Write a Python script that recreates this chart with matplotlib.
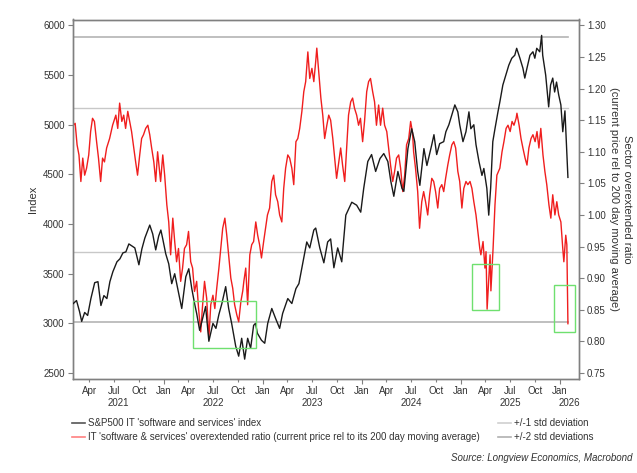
import pandas as pd
import matplotlib
matplotlib.use("Agg")
import matplotlib.pyplot as plt
import matplotlib.dates as mdates
import matplotlib.transforms as mtransforms
from matplotlib.patches import Rectangle
from matplotlib.lines import Line2D

plt.rcParams['font.family'] = ['Liberation Sans', 'DejaVu Sans']

# ─────────────────────────────────────────
# DATA
# ─────────────────────────────────────────
# S&P500 IT 'software and services' index (left axis)
index_dates = [
    "2021-02-01", "2021-02-13", "2021-02-24", "2021-03-04", "2021-03-15", "2021-03-26", "2021-04-07", "2021-04-21",
    "2021-05-03", "2021-05-14", "2021-05-25", "2021-06-05", "2021-06-16", "2021-06-27", "2021-07-12", "2021-07-23",
    "2021-08-03", "2021-08-14", "2021-08-25", "2021-09-05", "2021-09-16", "2021-10-01", "2021-10-12", "2021-10-23",
    "2021-11-03", "2021-11-10", "2021-11-21", "2021-12-02", "2021-12-13", "2021-12-21", "2021-12-28",
    "2022-01-08", "2022-01-19", "2022-01-30", "2022-02-10", "2022-02-21", "2022-03-08", "2022-03-23", "2022-04-03",
    "2022-04-14", "2022-04-25", "2022-05-02", "2022-05-13", "2022-05-24", "2022-06-04", "2022-06-16", "2022-07-01",
    "2022-07-12", "2022-07-23", "2022-08-03", "2022-08-17", "2022-08-28", "2022-09-08", "2022-09-23", "2022-10-04",
    "2022-10-15", "2022-10-26", "2022-11-06", "2022-11-17", "2022-11-28", "2022-12-05", "2022-12-12", "2022-12-27",
    "2023-01-08", "2023-01-19", "2023-02-03", "2023-02-17", "2023-03-04", "2023-03-15", "2023-04-03", "2023-04-18",
    "2023-05-03", "2023-05-14", "2023-05-28", "2023-06-12", "2023-06-23", "2023-07-08", "2023-07-15", "2023-07-30",
    "2023-08-14", "2023-08-28", "2023-09-08", "2023-09-20", "2023-10-04", "2023-10-19", "2023-11-03", "2023-11-25",
    "2023-12-13", "2023-12-28",
    "2024-01-08", "2024-01-23", "2024-02-06", "2024-02-21", "2024-03-08", "2024-03-22", "2024-04-06", "2024-04-17",
    "2024-04-28", "2024-05-13", "2024-05-28", "2024-06-04", "2024-06-19", "2024-07-03", "2024-07-14", "2024-07-25",
    "2024-08-02", "2024-08-17", "2024-08-28", "2024-09-15", "2024-09-23", "2024-10-03", "2024-10-14", "2024-10-29",
    "2024-11-06", "2024-11-17", "2024-11-28", "2024-12-09", "2024-12-20", "2024-12-27",
    "2025-01-08", "2025-01-19", "2025-01-30", "2025-02-06", "2025-02-17", "2025-02-25", "2025-03-08", "2025-03-19",
    "2025-03-26", "2025-04-06", "2025-04-13", "2025-04-20", "2025-04-28", "2025-05-06", "2025-05-17", "2025-05-24",
    "2025-06-04", "2025-06-15", "2025-06-26", "2025-07-07", "2025-07-18", "2025-07-25", "2025-08-06", "2025-08-17",
    "2025-08-24", "2025-09-01", "2025-09-12", "2025-09-23", "2025-09-30", "2025-10-07", "2025-10-18", "2025-10-25",
    "2025-10-29", "2025-11-09", "2025-11-20", "2025-11-27", "2025-12-05", "2025-12-12", "2025-12-19", "2025-12-27",
    "2026-01-04", "2026-01-11", "2026-01-19", "2026-01-30",
]
index_values = [
    3200, 3230, 3120, 3020, 3110, 3080, 3250, 3410,
    3420, 3180, 3280, 3250, 3420, 3520, 3620, 3650,
    3710, 3720, 3800, 3780, 3760, 3590, 3750, 3860,
    3940, 3990, 3900, 3740, 3880, 3940, 3850,
    3700, 3600, 3400, 3500, 3350, 3150, 3470, 3550,
    3350, 3190, 3100, 2930, 3050, 3170, 2820, 3000,
    2950, 3090, 3200, 3370, 3150, 3000, 2770, 2670,
    2850, 2640, 2850, 2750, 2980, 3000, 2900, 2830,
    2800, 3000, 3150, 3050, 2950, 3100, 3250, 3200,
    3350, 3400, 3600, 3820, 3760, 3940, 3960, 3760,
    3610, 3820, 3850, 3560, 3760, 3620, 4090, 4220,
    4190, 4120,
    4360, 4630, 4700, 4530, 4660, 4710, 4630, 4430,
    4280, 4530, 4360, 4330, 4760, 4960, 4830, 4530,
    4390, 4760, 4590, 4800, 4900, 4700, 4810, 4830,
    4930, 5000, 5100, 5200, 5130, 5000,
    4830, 4930, 5130, 4960, 5000, 4800, 4630, 4490,
    4560, 4360, 4090, 4360, 4830, 4960, 5130, 5230,
    5400, 5500, 5600, 5670, 5700, 5770, 5670, 5570,
    5470, 5570, 5700, 5735, 5670, 5770, 5735, 5900,
    5700, 5500, 5180, 5400, 5470, 5330, 5430, 5300,
    5200, 4930, 5140, 4470,
]

# overextended ratio: price / 200 day moving average (right axis)
ratio_dates = [
    "2021-02-01", "2021-02-08", "2021-02-15", "2021-02-22", "2021-03-01", "2021-03-08", "2021-03-15", "2021-03-22",
    "2021-03-30", "2021-04-06", "2021-04-13", "2021-04-20", "2021-04-28", "2021-05-05", "2021-05-13", "2021-05-20",
    "2021-05-27", "2021-06-04", "2021-06-15", "2021-06-26", "2021-07-08", "2021-07-15", "2021-07-22", "2021-07-30",
    "2021-08-06", "2021-08-13", "2021-08-21", "2021-08-28", "2021-09-04", "2021-09-12", "2021-09-19", "2021-09-26",
    "2021-10-04", "2021-10-11", "2021-10-18", "2021-10-26", "2021-11-03", "2021-11-10", "2021-11-17", "2021-11-25",
    "2021-12-02", "2021-12-09", "2021-12-16", "2021-12-20", "2021-12-28",
    "2022-01-04", "2022-01-12", "2022-01-19", "2022-01-26", "2022-02-03", "2022-02-10", "2022-02-17", "2022-02-24",
    "2022-03-04", "2022-03-11", "2022-03-18", "2022-03-26", "2022-04-02", "2022-04-10", "2022-04-17", "2022-04-24",
    "2022-05-02", "2022-05-09", "2022-05-17", "2022-05-24", "2022-05-31", "2022-06-08", "2022-06-16", "2022-06-23",
    "2022-07-01", "2022-07-08", "2022-07-15", "2022-07-23", "2022-07-30", "2022-08-06", "2022-08-14", "2022-08-21",
    "2022-08-28", "2022-09-05", "2022-09-12", "2022-09-19", "2022-09-27", "2022-10-04", "2022-10-12", "2022-10-19",
    "2022-10-23", "2022-10-30", "2022-11-06", "2022-11-14", "2022-11-21", "2022-11-28", "2022-12-06", "2022-12-13",
    "2022-12-20", "2022-12-27",
    "2023-01-04", "2023-01-11", "2023-01-18", "2023-01-26", "2023-02-03", "2023-02-10", "2023-02-17", "2023-02-25",
    "2023-03-04", "2023-03-12", "2023-03-19", "2023-03-26", "2023-04-03", "2023-04-10", "2023-04-18", "2023-04-25",
    "2023-05-03", "2023-05-10", "2023-05-17", "2023-05-25", "2023-06-01", "2023-06-08", "2023-06-16", "2023-06-23",
    "2023-07-01", "2023-07-08", "2023-07-15", "2023-07-19", "2023-07-26", "2023-08-03", "2023-08-10", "2023-08-17",
    "2023-08-25", "2023-09-01", "2023-09-08", "2023-09-16", "2023-09-23", "2023-09-30", "2023-10-08", "2023-10-15",
    "2023-10-22", "2023-10-30", "2023-11-06", "2023-11-13", "2023-11-21", "2023-11-28", "2023-12-05", "2023-12-13",
    "2023-12-20", "2023-12-27",
    "2024-01-04", "2024-01-11", "2024-01-19", "2024-01-26", "2024-02-02", "2024-02-10", "2024-02-17", "2024-02-24",
    "2024-03-03", "2024-03-10", "2024-03-18", "2024-03-25", "2024-04-02", "2024-04-09", "2024-04-16", "2024-04-24",
    "2024-05-01", "2024-05-08", "2024-05-16", "2024-05-23", "2024-05-31", "2024-06-07", "2024-06-14", "2024-06-22",
    "2024-06-29", "2024-07-06", "2024-07-10", "2024-07-17", "2024-07-25", "2024-08-01", "2024-08-09", "2024-08-16",
    "2024-08-23", "2024-08-31", "2024-09-07", "2024-09-15", "2024-09-22", "2024-09-29", "2024-10-07", "2024-10-14",
    "2024-10-22", "2024-10-29", "2024-11-05", "2024-11-13", "2024-11-20", "2024-11-28", "2024-12-05", "2024-12-12",
    "2024-12-20", "2024-12-27",
    "2025-01-04", "2025-01-11", "2025-01-19", "2025-01-26", "2025-02-03", "2025-02-10", "2025-02-17", "2025-02-25",
    "2025-03-04", "2025-03-11", "2025-03-15", "2025-03-23", "2025-03-30", "2025-04-03", "2025-04-07", "2025-04-14",
    "2025-04-18", "2025-04-21", "2025-04-29", "2025-05-06", "2025-05-13", "2025-05-24", "2025-06-01", "2025-06-08",
    "2025-06-16", "2025-06-23", "2025-07-01", "2025-07-08", "2025-07-15", "2025-07-23", "2025-07-26", "2025-08-03",
    "2025-08-10", "2025-08-17", "2025-08-25", "2025-09-01", "2025-09-08", "2025-09-16", "2025-09-23", "2025-10-01",
    "2025-10-08", "2025-10-15", "2025-10-22", "2025-10-30", "2025-11-06", "2025-11-13", "2025-11-21", "2025-11-28",
    "2025-12-05", "2025-12-13", "2025-12-20", "2025-12-27",
    "2026-01-04", "2026-01-11", "2026-01-15", "2026-01-22", "2026-01-26", "2026-01-30",
]
ratio_values = [
    1.142, 1.145, 1.111, 1.095, 1.053, 1.090, 1.063, 1.074,
    1.095, 1.132, 1.153, 1.148, 1.116, 1.090, 1.053, 1.090,
    1.084, 1.106, 1.121, 1.142, 1.158, 1.137, 1.177, 1.148,
    1.158, 1.137, 1.164, 1.148, 1.132, 1.106, 1.084, 1.063,
    1.095, 1.121, 1.127, 1.137, 1.142, 1.127, 1.106, 1.084,
    1.053, 1.100, 1.070, 1.053, 1.095,
    1.063, 1.016, 0.989, 0.937, 0.995, 0.958, 0.926, 0.947,
    0.895, 0.916, 0.947, 0.953, 0.974, 0.926, 0.916, 0.879,
    0.895, 0.852, 0.815, 0.858, 0.895, 0.868, 0.805, 0.858,
    0.873, 0.852, 0.884, 0.916, 0.947, 0.979, 0.995, 0.968,
    0.937, 0.900, 0.884, 0.858, 0.842, 0.831, 0.863, 0.880,
    0.895, 0.916, 0.858, 0.937, 0.953, 0.958, 0.989, 0.968,
    0.953, 0.932,
    0.958, 0.979, 1.000, 1.011, 1.053, 1.063, 1.032, 1.021,
    1.000, 0.989, 1.042, 1.074, 1.095, 1.090, 1.074, 1.048,
    1.116, 1.121, 1.137, 1.164, 1.195, 1.211, 1.258, 1.216,
    1.232, 1.211, 1.243, 1.264, 1.227, 1.185, 1.158, 1.121,
    1.142, 1.158, 1.150, 1.121, 1.090, 1.058, 1.084, 1.106,
    1.079, 1.053, 1.106, 1.158, 1.179, 1.185, 1.169, 1.158,
    1.142, 1.153,
    1.116, 1.148, 1.195, 1.211, 1.216, 1.195, 1.179, 1.142,
    1.174, 1.142, 1.169, 1.142, 1.132, 1.106, 1.079, 1.053,
    1.069, 1.090, 1.095, 1.074, 1.037, 1.063, 1.111, 1.121,
    1.148, 1.130, 1.100, 1.074, 1.037, 0.979, 1.021, 1.037,
    1.021, 1.000, 1.032, 1.058, 1.053, 1.037, 1.011, 1.042,
    1.048, 1.037, 1.058, 1.079, 1.095, 1.111, 1.116, 1.106,
    1.069, 1.053,
    1.011, 1.042, 1.053, 1.048, 1.053, 1.042, 1.021, 1.000,
    0.974, 0.947, 0.937, 0.958, 0.916, 0.942, 0.851, 0.905,
    0.937, 0.880, 0.947, 1.016, 1.063, 1.074, 1.100, 1.116,
    1.137, 1.142, 1.132, 1.148, 1.142, 1.153, 1.161, 1.142,
    1.121, 1.106, 1.090, 1.079, 1.106, 1.121, 1.127, 1.116,
    1.132, 1.106, 1.137, 1.095, 1.069, 1.048, 1.016, 0.995,
    1.032, 1.000, 1.021, 1.000,
    0.989, 0.947, 0.926, 0.968, 0.953, 0.828,
]

# standard deviation bands of the ratio
std1_levels = [0.941, 1.170]
std2_levels = [0.830, 1.281]

# highlighted periods: (start, end, low, high)
box_index = ("2022-04-18", "2022-12-06", 2750, 3230)          # left axis
boxes_ratio = [("2025-02-10", "2025-05-20", 0.849, 0.922),    # right axis
               ("2025-12-11", "2026-02-24", 0.815, 0.889)]

years = [2021, 2022, 2023, 2024, 2025, 2026]

index_label = "S&P500 IT 'software and services' index"
ratio_label = ("IT 'software & services' overextended ratio "
               "(current price rel to its 200 day moving average)")

assert len(index_dates) == len(index_values)
assert len(ratio_dates) == len(ratio_values)

idx = pd.Series(index_values, index=pd.to_datetime(index_dates))
ratio = pd.Series(ratio_values, index=pd.to_datetime(ratio_dates))

# ─────────────────────────────────────────
# CHART
# ─────────────────────────────────────────
RED = '#f01e1e'
BLACK = '#1a1a1a'
GREEN = '#6fe06f'
AXC = '#808080'
TXT = '#333333'

fig = plt.figure(figsize=(6.37, 4.73), dpi=100)
ax = fig.add_axes([73 / 637, 1 - 379 / 473, 505.5 / 637, 359.5 / 473])
ax2 = ax.twinx()

# std bands
for lvl in std1_levels:
    ax2.plot([ratio.index[0], ratio.index[-1]], [lvl, lvl], color='#c8c8c8', lw=1.0, zorder=1)
for lvl in std2_levels:
    ax2.plot([ratio.index[0], ratio.index[-1]], [lvl, lvl], color='#b4b4b4', lw=1.2, zorder=1)

ax2.plot(ratio.index, ratio.values, color=RED, lw=1.0, zorder=3)
ax.plot(idx.index, idx.values, color=BLACK, lw=1.0, zorder=3)
ax.set_zorder(ax2.get_zorder() + 1)
ax.patch.set_visible(False)

# green boxes
s, e, lo, hi = box_index
x0 = mdates.date2num(pd.Timestamp(s))
x1 = mdates.date2num(pd.Timestamp(e))
ax.add_patch(Rectangle((x0, lo), x1 - x0, hi - lo, fill=False, ec=GREEN, lw=1.0, zorder=4))
for s, e, lo, hi in boxes_ratio:
    x0 = mdates.date2num(pd.Timestamp(s))
    x1 = mdates.date2num(pd.Timestamp(e))
    ax2.add_patch(Rectangle((x0, lo), x1 - x0, hi - lo, fill=False, ec=GREEN, lw=1.0, zorder=4))

xmin, xmax = pd.Timestamp("2021-01-31"), pd.Timestamp("2026-03-10")
ax.set_xlim(xmin, xmax)
ax.set_ylim(2440, 6060)
ax2.set_ylim(0.7405, 1.3093)
ax.set_yticks(range(2500, 6001, 500))
ax2.set_yticks([0.75, 0.80, 0.85, 0.90, 0.95, 1.00, 1.05, 1.10, 1.15, 1.20, 1.25, 1.30])
ax2.yaxis.set_major_formatter(plt.FuncFormatter(lambda v, p: f"{v:.2f}"))

ax.xaxis.set_major_locator(mdates.MonthLocator(bymonth=1))
ax.xaxis.set_minor_locator(mdates.MonthLocator(bymonth=[4, 7, 10]))
ax.xaxis.set_major_formatter(mdates.DateFormatter('%b'))
ax.xaxis.set_minor_formatter(mdates.DateFormatter('%b'))

for a in (ax, ax2):
    for sp in a.spines.values():
        sp.set_color(AXC)
        sp.set_linewidth(1.0)
ax.tick_params(axis='x', which='major', length=3.5, width=0.8, color=AXC, pad=1.5, labelsize=7, labelcolor=TXT)
ax.tick_params(axis='x', which='minor', length=2.0, width=0.8, color=AXC, pad=3.0, labelsize=7, labelcolor=TXT)
ax.tick_params(axis='y', length=3.5, width=0.8, color=AXC, pad=2.5, labelsize=7, labelcolor=TXT)
ax2.tick_params(axis='y', length=3.5, width=0.8, color=AXC, pad=2.5, labelsize=7, labelcolor=TXT)

# year labels centred on the visible part of each year
trans = mtransforms.blended_transform_factory(ax.transData, ax.transAxes)
for y in years:
    a = max(pd.Timestamp(f"{y}-01-01"), xmin)
    b = min(pd.Timestamp(f"{y + 1}-01-01"), xmax)
    ax.text(a + (b - a) / 2, -0.067, str(y), transform=trans, ha='center', va='center',
            fontsize=7, color=TXT, clip_on=False)

ax.set_ylabel('Index', fontsize=8, color=TXT, va='center')
ax.yaxis.set_label_coords(-0.079, 0.5)
ax2.set_ylabel("Sector overextended ratio\n(current price rel to 200 day moving average)",
               rotation=270, fontsize=8, color=TXT, va='center', ha='center', linespacing=1.4)
ax2.yaxis.set_label_coords(1.083, 0.5)

# legends
h1 = [Line2D([], [], color='#555555', lw=1.2), Line2D([], [], color='#ff8080', lw=1.2)]
leg1 = fig.legend(h1, [index_label, ratio_label], loc='upper left', bbox_to_anchor=(72 / 637, 1 - 418 / 473),
                  frameon=False, fontsize=7, handlelength=1.3, handletextpad=0.35, labelspacing=0.45,
                  borderpad=0, borderaxespad=0)
h2 = [Line2D([], [], color='#d0d0d0', lw=1.2), Line2D([], [], color='#b0b0b0', lw=1.2)]
leg2 = fig.legend(h2, ['+/-1 std deviation', '+/-2 std deviations'], loc='upper left',
                  bbox_to_anchor=(498 / 637, 1 - 418 / 473), frameon=False, fontsize=7, handlelength=1.3,
                  handletextpad=0.35, labelspacing=0.45, borderpad=0, borderaxespad=0)
for lg in (leg1, leg2):
    for t in lg.get_texts():
        t.set_color(TXT)

fig.text(632 / 637, 1 - 458 / 473, 'Source: Longview Economics, Macrobond', ha='right', va='center',
         fontsize=7, style='italic', color=TXT)

fig.savefig('out.png', dpi=100)
